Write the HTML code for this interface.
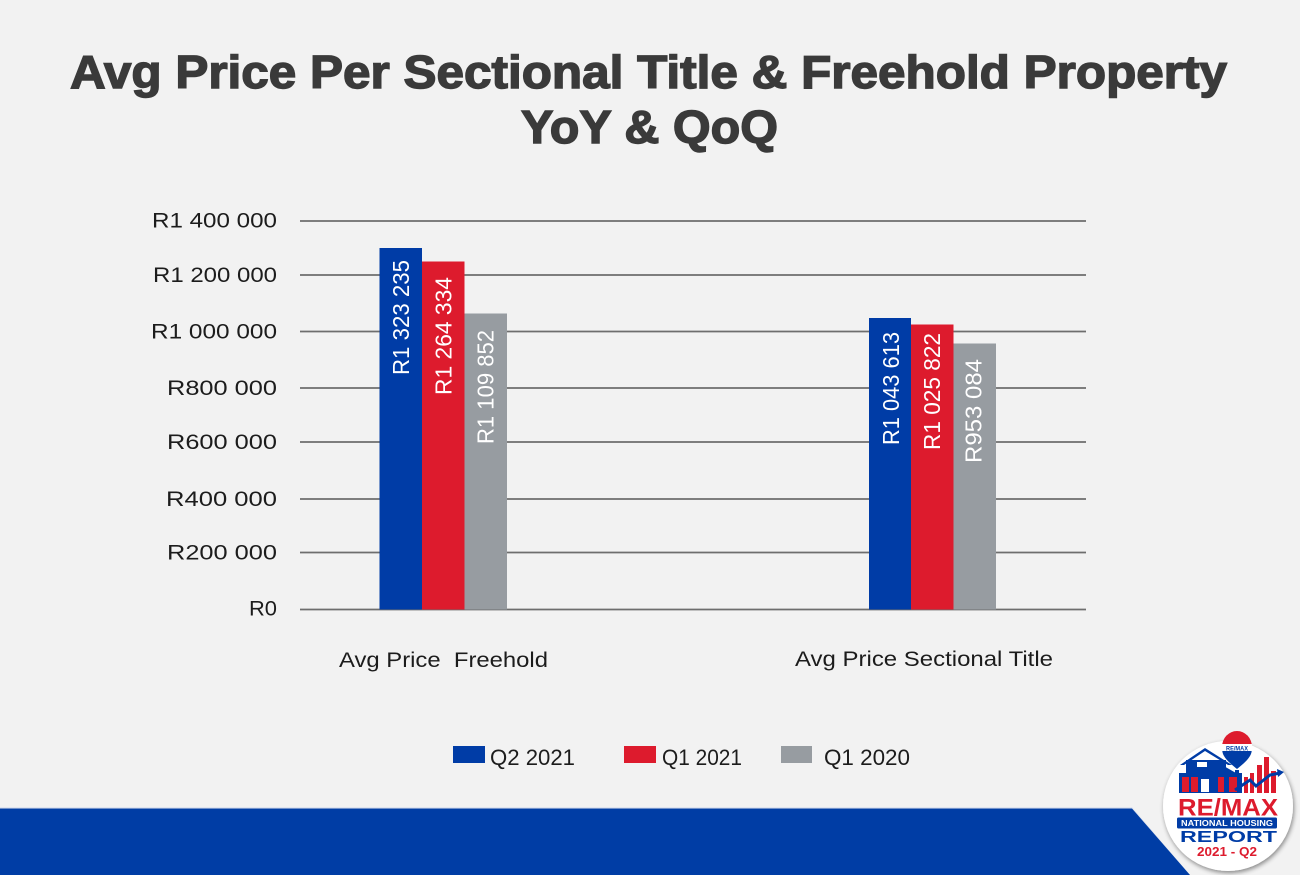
<!DOCTYPE html>
<html>
<head>
<meta charset="utf-8">
<style>
html,body{margin:0;padding:0;background:#f2f2f2;}
svg{display:block;}
</style>
</head>
<body>
<svg width="1300" height="875" viewBox="0 0 1300 875" xmlns="http://www.w3.org/2000/svg">
  <defs>
    <filter id="sh" x="-20%" y="-20%" width="140%" height="140%">
      <feGaussianBlur in="SourceAlpha" stdDeviation="2.5"/>
      <feOffset dx="1" dy="2" result="o"/>
      <feComponentTransfer><feFuncA type="linear" slope="0.45"/></feComponentTransfer>
      <feMerge><feMergeNode/><feMergeNode in="SourceGraphic"/></feMerge>
    </filter>
  </defs>
  <rect x="0" y="0" width="1300" height="875" fill="#f2f2f2"/>

  <!-- Title -->
  <g font-family="Liberation Sans, sans-serif" font-weight="bold" fill="#3a3a3a" stroke="#3a3a3a" stroke-width="1.4">
    <text x="70" y="88" font-size="46" textLength="1157" lengthAdjust="spacingAndGlyphs">Avg Price Per Sectional Title &amp; Freehold Property</text>
    <text x="521" y="143" font-size="46" textLength="257" lengthAdjust="spacingAndGlyphs">YoY &amp; QoQ</text>
  </g>

  <!-- Gridlines -->
  <g stroke="#6e6e6e" stroke-width="1.7">
    <line x1="300" y1="221" x2="1086" y2="221"/>
    <line x1="300" y1="275" x2="1086" y2="275"/>
    <line x1="300" y1="331.5" x2="1086" y2="331.5"/>
    <line x1="300" y1="388" x2="1086" y2="388"/>
    <line x1="300" y1="442" x2="1086" y2="442"/>
    <line x1="300" y1="499" x2="1086" y2="499"/>
    <line x1="300" y1="552.5" x2="1086" y2="552.5"/>
    <line x1="300" y1="609.5" x2="1086" y2="609.5"/>
  </g>

  <!-- Y labels -->
  <g font-family="Liberation Sans, sans-serif" font-size="21" fill="#1c1c1c">
    <text x="152" y="227.5" textLength="125" lengthAdjust="spacingAndGlyphs">R1 400 000</text>
    <text x="153" y="282" textLength="124" lengthAdjust="spacingAndGlyphs">R1 200 000</text>
    <text x="151" y="338.5" textLength="126" lengthAdjust="spacingAndGlyphs">R1 000 000</text>
    <text x="167" y="395" textLength="110" lengthAdjust="spacingAndGlyphs">R800 000</text>
    <text x="167" y="449" textLength="110" lengthAdjust="spacingAndGlyphs">R600 000</text>
    <text x="166" y="506" textLength="111" lengthAdjust="spacingAndGlyphs">R400 000</text>
    <text x="167" y="559.5" textLength="110" lengthAdjust="spacingAndGlyphs">R200 000</text>
    <text x="249" y="615.5" textLength="28" lengthAdjust="spacingAndGlyphs">R0</text>
  </g>

  <!-- Bars group 1 -->
  <rect x="379.5" y="248" width="42.5" height="361.5" fill="#003ca6"/>
  <rect x="422" y="261.5" width="42.5" height="348" fill="#dd1b2d"/>
  <rect x="464.5" y="313.5" width="42.5" height="296" fill="#979ca1"/>
  <!-- Bars group 2 -->
  <rect x="869" y="318" width="42" height="291.5" fill="#003ca6"/>
  <rect x="911" y="324.5" width="42.5" height="285" fill="#dd1b2d"/>
  <rect x="953.5" y="343.5" width="42.5" height="266" fill="#979ca1"/>

  <!-- Bar labels -->
  <g font-family="Liberation Sans, sans-serif" font-size="23" fill="#ffffff">
    <text transform="translate(409,375) rotate(-90)" textLength="115" lengthAdjust="spacingAndGlyphs">R1 323 235</text>
    <text transform="translate(451.5,395) rotate(-90)" textLength="118" lengthAdjust="spacingAndGlyphs">R1 264 334</text>
    <text transform="translate(493.5,444) rotate(-90)" textLength="114" lengthAdjust="spacingAndGlyphs">R1 109 852</text>
    <text transform="translate(899,445) rotate(-90)" textLength="113" lengthAdjust="spacingAndGlyphs">R1 043 613</text>
    <text transform="translate(940,450) rotate(-90)" textLength="117" lengthAdjust="spacingAndGlyphs">R1 025 822</text>
    <text transform="translate(981.5,463) rotate(-90)" textLength="104" lengthAdjust="spacingAndGlyphs">R953 084</text>
  </g>

  <!-- Category labels -->
  <g font-family="Liberation Sans, sans-serif" font-size="21.5" fill="#1c1c1c">
    <text x="339" y="667" textLength="209" lengthAdjust="spacingAndGlyphs" xml:space="preserve">Avg Price  Freehold</text>
    <text x="795" y="666" textLength="258" lengthAdjust="spacingAndGlyphs">Avg Price Sectional Title</text>
  </g>

  <!-- Legend -->
  <rect x="453" y="746" width="32" height="17" fill="#003ca6"/>
  <rect x="624" y="746" width="32" height="17" fill="#dd1b2d"/>
  <rect x="781" y="746" width="31" height="17" fill="#979ca1"/>
  <g font-family="Liberation Sans, sans-serif" font-size="22" fill="#1c1c1c">
    <text x="490" y="765" textLength="85" lengthAdjust="spacingAndGlyphs">Q2 2021</text>
    <text x="662" y="765" textLength="80" lengthAdjust="spacingAndGlyphs">Q1 2021</text>
    <text x="824" y="765" textLength="86" lengthAdjust="spacingAndGlyphs">Q1 2020</text>
  </g>

  <!-- Bottom band -->
  <polygon points="0,807 1132,807 1190,875 0,875" fill="#dfe4ef"/>
  <polygon points="0,808.5 1132,808.5 1190,875 0,875" fill="#003da5"/>

  <!-- Logo -->
  <g filter="url(#sh)">
    <circle cx="1228" cy="806" r="65" fill="#ffffff"/>
  </g>
  <!-- balloon -->
  <g>
    <path d="M1222,747 A15,16 0 0 1 1252,747 Z" fill="#dd1b2d"/>
    <rect x="1222" y="744" width="30" height="7" fill="#ffffff"/>
    <path d="M1222.3,751 L1251.7,751 C1251,758 1243,764 1237,769 C1231,764 1223,758 1222.3,751 Z" fill="#003ca6"/>
    <text x="1226" y="750.5" font-family="Liberation Sans, sans-serif" font-weight="bold" font-size="6" fill="#003ca6" textLength="22" lengthAdjust="spacingAndGlyphs">RE/MAX</text>
    <rect x="1235" y="770" width="4" height="3" fill="#003ca6"/>
  </g>
  <!-- house -->
  <g>
    <polygon points="1180,765 1205,748 1232,765 1228,765 1205,751 1184,765" fill="#003ca6"/>
    <rect x="1186" y="760" width="40" height="14" fill="#003ca6"/>
    <rect x="1197" y="762" width="10" height="5" fill="#ffffff"/>
    <rect x="1179" y="773" width="63" height="20" fill="#003ca6"/>
    <polygon points="1210,773 1222,765 1236,773" fill="#003ca6"/>
    <rect x="1182" y="777" width="7" height="15" fill="#dd1b2d"/>
    <rect x="1191" y="777" width="7" height="15" fill="#dd1b2d"/>
    <rect x="1201" y="779" width="8" height="13" fill="#ffffff"/>
    <rect x="1218" y="777" width="6" height="15" fill="#dd1b2d"/>
    <rect x="1229" y="777" width="8" height="15" fill="#dd1b2d"/>
  </g>
  <!-- bars -->
  <g fill="#dd1b2d">
    <rect x="1244" y="777" width="4" height="16"/>
    <rect x="1250" y="773" width="4" height="20"/>
    <rect x="1257" y="765" width="5" height="28"/>
    <rect x="1264" y="757" width="5" height="36"/>
    <rect x="1271" y="771" width="5" height="22"/>
  </g>
  <polyline points="1235,790 1250,780 1256,786 1270,775 1280,773" fill="none" stroke="#003ca6" stroke-width="3"/>
  <polygon points="1277,769 1284,772 1278,777" fill="#003ca6"/>
  <!-- logo text -->
  <text x="1178" y="815.5" font-family="Liberation Sans, sans-serif" font-weight="bold" font-size="24" fill="#dd1b2d" textLength="100" lengthAdjust="spacingAndGlyphs">RE/MAX</text>
  <rect x="1177" y="817.5" width="100" height="11" rx="1.5" fill="#003ca6"/>
  <text x="1181" y="826" font-family="Liberation Sans, sans-serif" font-weight="bold" font-size="8.5" fill="#ffffff" textLength="92" lengthAdjust="spacingAndGlyphs">NATIONAL HOUSING</text>
  <text x="1180" y="842" font-family="Liberation Sans, sans-serif" font-weight="bold" font-size="16" fill="#003ca6" textLength="97" lengthAdjust="spacingAndGlyphs">REPORT</text>
  <text x="1197" y="856" font-family="Liberation Sans, sans-serif" font-weight="bold" font-size="13" fill="#dd1b2d" textLength="60" lengthAdjust="spacingAndGlyphs">2021 - Q2</text>
</svg>
</body>
</html>
